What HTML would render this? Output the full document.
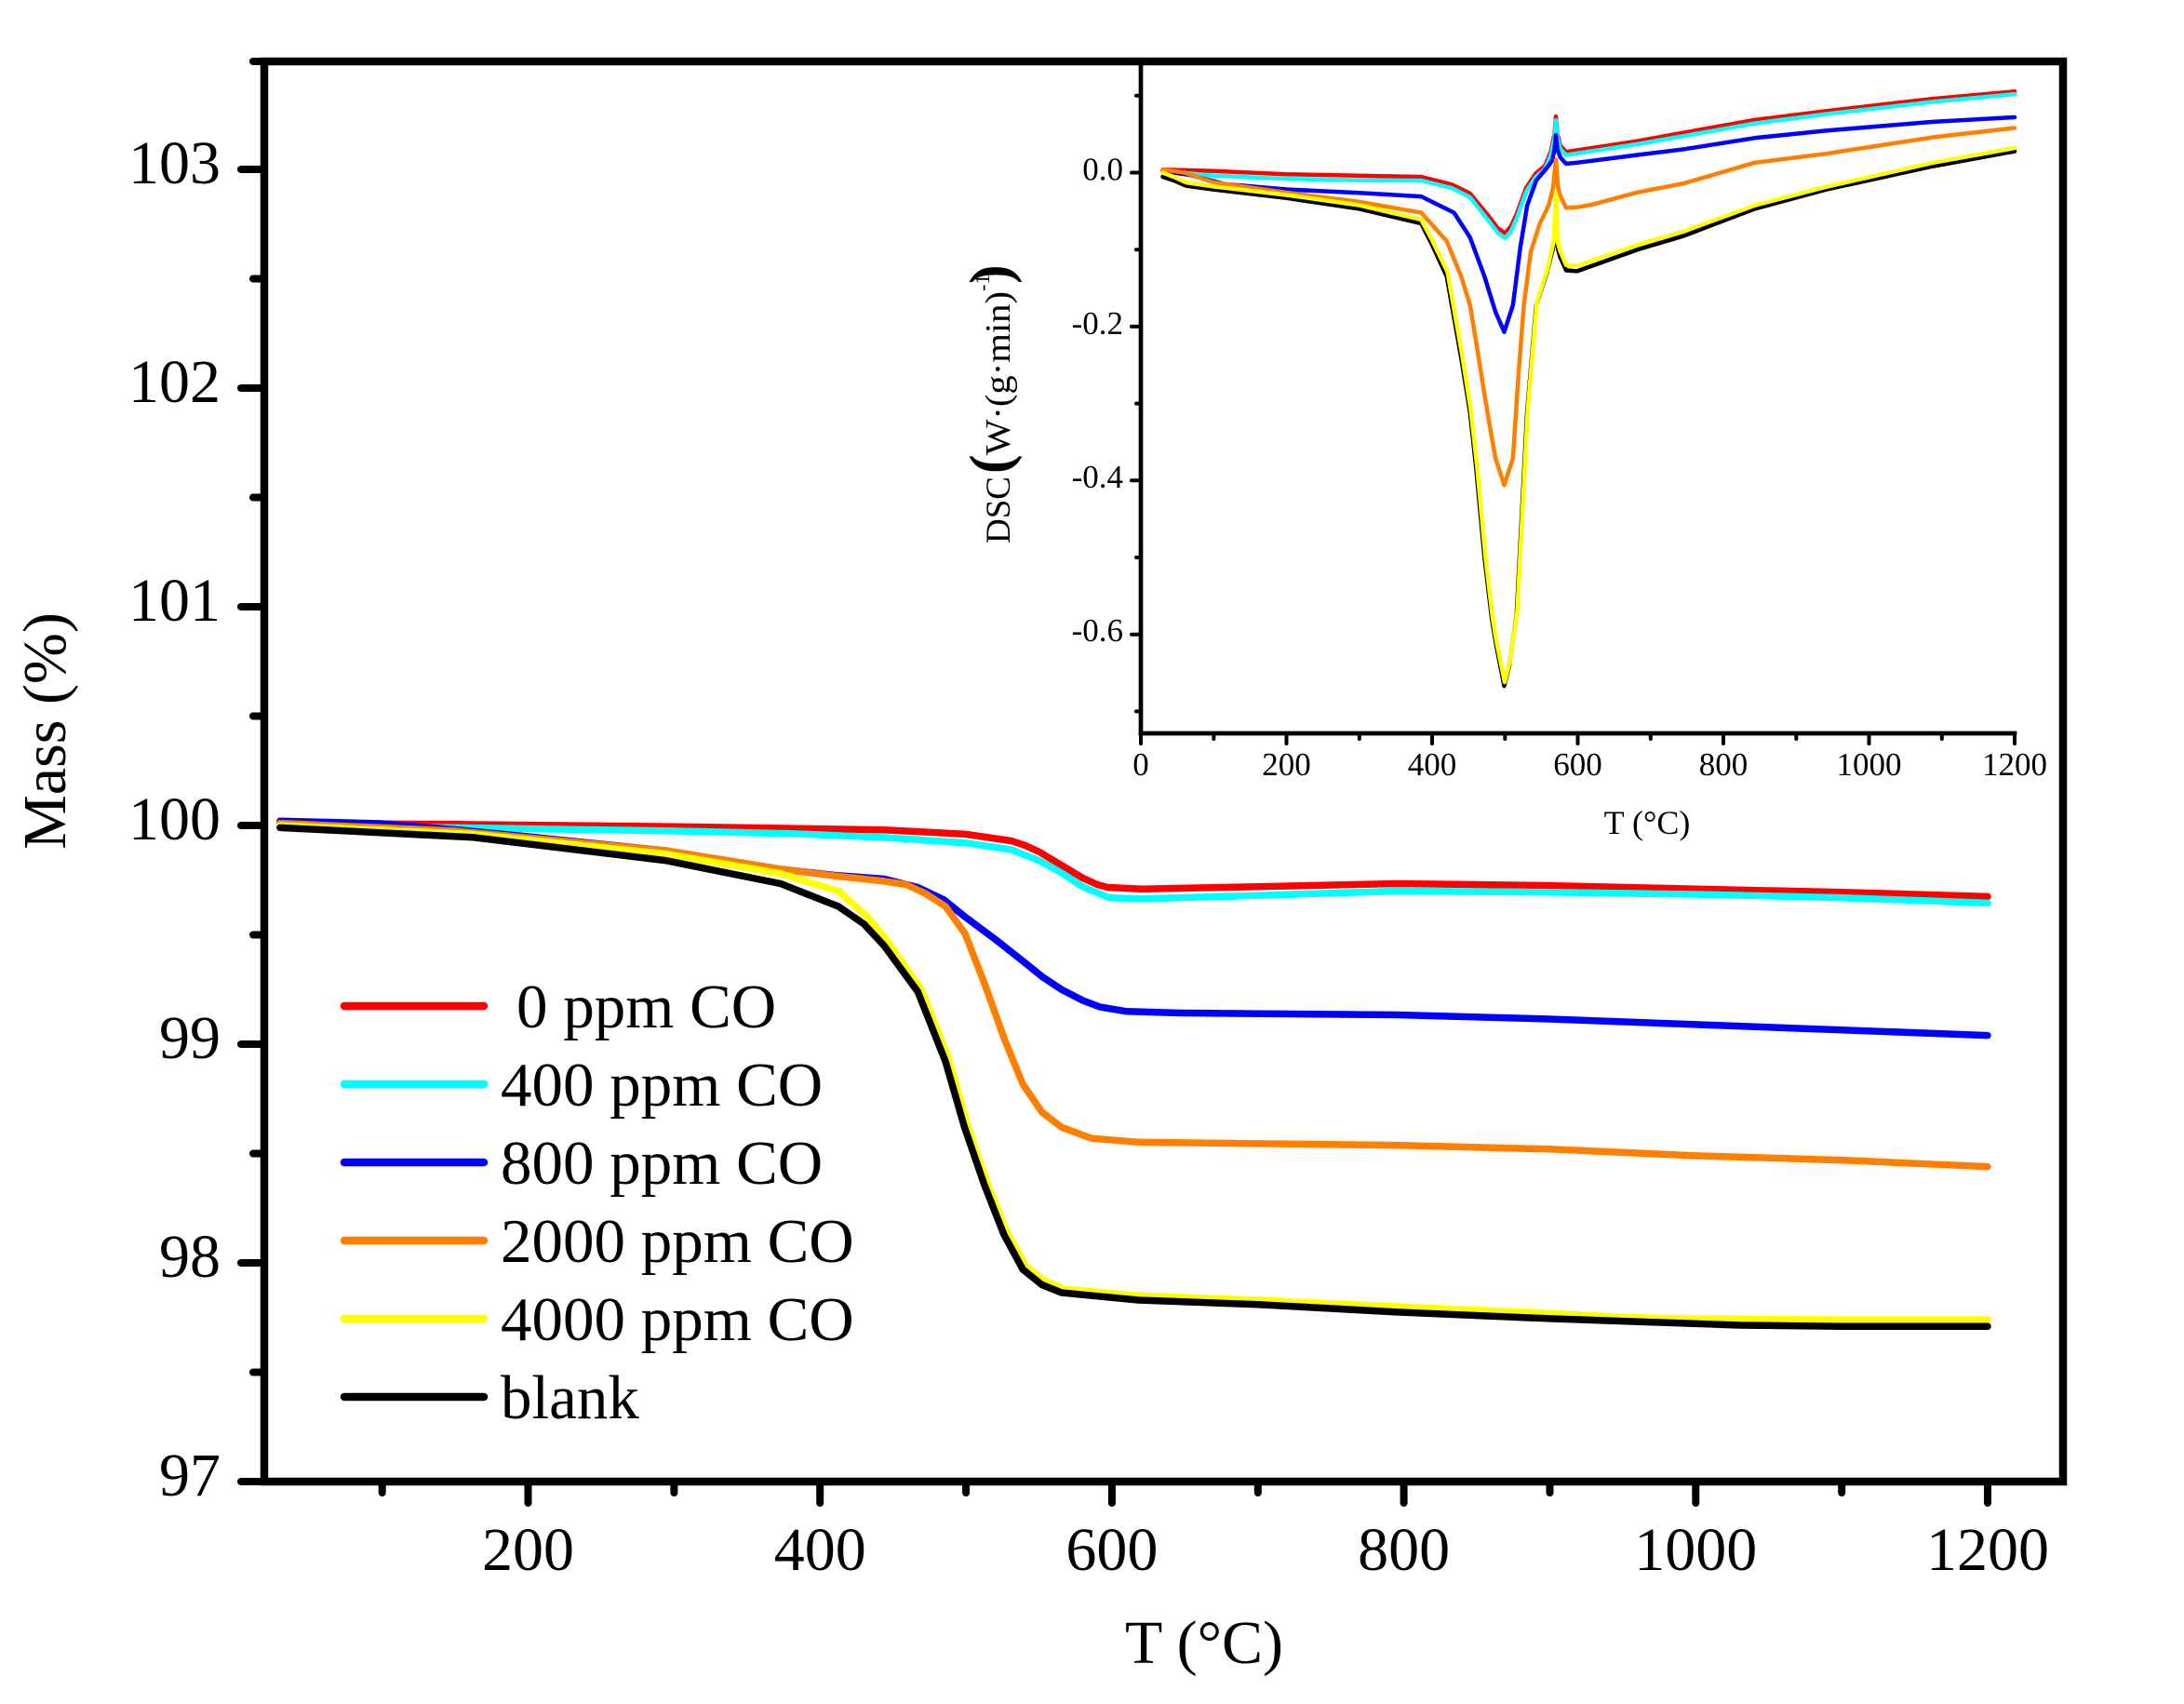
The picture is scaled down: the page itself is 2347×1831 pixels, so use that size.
<!DOCTYPE html>
<html>
<head>
<meta charset="utf-8">
<style>
  html,body{margin:0;padding:0;background:#fff;}
  svg{display:block;}
  text{font-family:"Liberation Serif","Times New Roman",serif;fill:#000;}
</style>
</head>
<body>
<svg width="2347" height="1831" viewBox="0 0 2347 1831" xmlns="http://www.w3.org/2000/svg">
  <rect x="0" y="0" width="2347" height="1831" fill="#fff"/>

  <!-- ===== MAIN TGA CURVES ===== -->
  <g fill="none" stroke-width="7.5" stroke-linejoin="round" stroke-linecap="round">
    <polyline stroke="#ff0000" points="300.9,884.65 489.1,885.8 724.4,888.2 849.8,890.1 950.2,891.7 1038.1,896.4 1086.7,903.5 1100.8,908.2 1116.5,915.2 1140.0,929.3 1163.5,943.4 1179.2,950.5 1190.2,953.5 1226.3,955.2 1351.8,952.8 1500.8,949.5 1665.5,951.6 1822.3,955.2 1979.2,958.7 2136.0,963.4"/>
    <polyline stroke="#00ffff" points="300.9,887 489.1,889.35 724.4,892.9 849.8,895.7 950.2,899.9 1038.1,905.8 1086.7,912.9 1116.5,924.6 1140.0,937.5 1163.5,952.8 1191.8,964.6 1226.3,965.7 1351.8,962.2 1500.8,957.5 1665.5,958.7 1822.3,961.0 1979.2,964.6 2136.0,970.4"/>
    <polyline stroke="#0000ff" points="300.9,882.3 410.7,885 489.1,891.5 567.5,899 715.0,914.0 838.8,934.0 896.9,940.5 950.2,944.5 986.3,953.5 1014.5,966.9 1036.5,984.8 1069.4,1009.2 1099.2,1032.7 1119.6,1049.2 1140.8,1063.3 1163.5,1075.0 1182.3,1082.1 1210.6,1086.8 1263.9,1088.4 1500.8,1090.5 1665.5,1095.0 1822.3,1100.9 1979.2,1106.7 2136.0,1112.6"/>
    <polyline stroke="#ff8000" points="300.9,884.65 489.1,892.9 715.0,914.0 838.8,934.0 896.9,941.1 950.2,946.9 973.7,950.5 994.1,959.9 1016.1,974.0 1037.1,1003.3 1057.8,1056.2 1078.8,1115.0 1099.2,1165.0 1119.6,1194.9 1140.8,1211.3 1172.9,1223.1 1223.1,1227.3 1351.8,1228.9 1500.8,1230.6 1665.5,1234.8 1822.3,1241.9 1979.2,1246.6 2136.0,1253.6"/>
    <polyline stroke="#ffff00" points="300.9,887 507.9,896.4 715.0,917.6 838.8,938.7 901,957.5 932,985 954,1012 990,1063 1020,1139 1040,1210 1061,1272 1082,1324 1102,1360 1122,1376 1143,1385 1223.1,1392.3 1351.8,1397 1500.8,1404 1665.5,1411.1 1747,1415.8 1822.3,1417 1979.2,1418.1 2136,1418.1"/>
    <polyline stroke="#000000" points="300.9,889.35 507.9,899.7 715.0,924.6 838.8,949.5 901.0,974.0 928.3,992.8 950.2,1016.3 986.3,1065.6 1016.1,1140.8 1036.5,1211.3 1057.8,1273.1 1078.8,1326.5 1099.2,1364.1 1119.6,1380.5 1140.8,1389.0 1223.1,1397.0 1351.8,1401.7 1500.8,1409.9 1665.5,1416.9 1747.0,1419.7 1869.4,1424.0 1979.2,1425.2 2136.0,1425.2"/>
  </g>

  <!-- ===== MAIN FRAME ===== -->
  <rect x="284" y="66" width="1933" height="1526" fill="none" stroke="#000" stroke-width="8.5"/>

  <!-- Y ticks (outward, left) -->
  <g stroke="#000" stroke-width="8" stroke-linecap="round">
    <line x1="284" y1="1592" x2="259" y2="1592"/>
    <line x1="284" y1="1357" x2="259" y2="1357"/>
    <line x1="284" y1="1122" x2="259" y2="1122"/>
    <line x1="284" y1="887" x2="259" y2="887"/>
    <line x1="284" y1="652" x2="259" y2="652"/>
    <line x1="284" y1="417" x2="259" y2="417"/>
    <line x1="284" y1="182" x2="259" y2="182"/>
    <line x1="284" y1="1474.5" x2="272" y2="1474.5"/>
    <line x1="284" y1="1239.5" x2="272" y2="1239.5"/>
    <line x1="284" y1="1004.5" x2="272" y2="1004.5"/>
    <line x1="284" y1="769.5" x2="272" y2="769.5"/>
    <line x1="284" y1="534.5" x2="272" y2="534.5"/>
    <line x1="284" y1="299.5" x2="272" y2="299.5"/>
    <line x1="284" y1="66" x2="272" y2="66"/>
    <!-- X ticks (outward, down) -->
    <line x1="567.5" y1="1592" x2="567.5" y2="1615"/>
    <line x1="881.2" y1="1592" x2="881.2" y2="1615"/>
    <line x1="1194.9" y1="1592" x2="1194.9" y2="1615"/>
    <line x1="1508.6" y1="1592" x2="1508.6" y2="1615"/>
    <line x1="1822.3" y1="1592" x2="1822.3" y2="1615"/>
    <line x1="2136" y1="1592" x2="2136" y2="1615"/>
    <line x1="410.7" y1="1592" x2="410.7" y2="1604"/>
    <line x1="724.4" y1="1592" x2="724.4" y2="1604"/>
    <line x1="1038.1" y1="1592" x2="1038.1" y2="1604"/>
    <line x1="1351.8" y1="1592" x2="1351.8" y2="1604"/>
    <line x1="1665.5" y1="1592" x2="1665.5" y2="1604"/>
    <line x1="1979.2" y1="1592" x2="1979.2" y2="1604"/>
  </g>

  <!-- Y tick labels -->
  <g font-size="66" text-anchor="end">
    <text x="237" y="1607">97</text>
    <text x="237" y="1372">98</text>
    <text x="237" y="1137">99</text>
    <text x="237" y="902">100</text>
    <text x="237" y="667">101</text>
    <text x="237" y="432">102</text>
    <text x="237" y="197">103</text>
  </g>
  <!-- X tick labels -->
  <g font-size="66" text-anchor="middle">
    <text x="567.5" y="1687">200</text>
    <text x="881.2" y="1687">400</text>
    <text x="1194.9" y="1687">600</text>
    <text x="1508.6" y="1687">800</text>
    <text x="1822.3" y="1687">1000</text>
    <text x="2136" y="1687">1200</text>
  </g>

  <!-- Axis titles -->
  <text x="1294" y="1787" font-size="66" text-anchor="middle">T (°C)</text>
  <text transform="translate(70,785.5) rotate(-90)" font-size="66" text-anchor="middle">Mass (%)</text>

  <!-- ===== LEGEND ===== -->
  <g stroke-width="8.5" stroke-linecap="round">
    <line x1="370" y1="1081" x2="520" y2="1081" stroke="#ff0000"/>
    <line x1="370" y1="1165" x2="520" y2="1165" stroke="#00ffff"/>
    <line x1="370" y1="1249" x2="520" y2="1249" stroke="#0000ff"/>
    <line x1="370" y1="1333" x2="520" y2="1333" stroke="#ff8000"/>
    <line x1="370" y1="1417" x2="520" y2="1417" stroke="#ffff00"/>
    <line x1="370" y1="1501" x2="520" y2="1501" stroke="#000000"/>
  </g>
  <g font-size="67">
    <text x="555" y="1104">0 ppm CO</text>
    <text x="538" y="1188">400 ppm CO</text>
    <text x="538" y="1272">800 ppm CO</text>
    <text x="538" y="1356">2000 ppm CO</text>
    <text x="538" y="1440">4000 ppm CO</text>
    <text x="538" y="1524">blank</text>
  </g>

  <!-- ===== INSET DSC ===== -->
  <g fill="none" stroke-width="4.5" stroke-linejoin="round" stroke-linecap="round">
    <polyline stroke="#ff0000" points="1249.5,182.2 1304.3,183.8 1382.5,187.2 1460.8,188.8 1527.3,190.0 1560.1,198.3 1579.7,207.8 1600.0,232.6 1609.4,245.0 1617.3,250.7 1623.5,243.4 1629.8,230.2 1640.0,202.0 1650.1,186.7 1660.3,178.1 1666.5,163.2 1670.5,144.2 1672.0,125.1 1673.6,144.2 1676.7,156.6 1683.0,163.2 1694.7,161.5 1759.7,151.6 1809.8,142.5 1885.6,128.9 1962.3,119.3 2077.4,106.1 2165.0,98.3"/>
    <polyline stroke="#00ffff" points="1249.5,183.8 1304.3,188.8 1382.5,192.1 1460.8,193.8 1527.3,194.0 1560.1,202.0 1579.7,212.0 1600.0,237.6 1609.4,250 1617.3,255.8 1623.5,249 1629.8,235.1 1640.0,206.2 1650.1,190.5 1660.3,181.4 1666.5,167.3 1670.5,148.3 1672.0,129.3 1673.6,148.3 1676.7,160 1683.0,166.7 1694.7,164.8 1759.7,154.9 1809.8,146.1 1885.6,132.6 1962.3,122.6 2077.4,109.4 2165.0,101.1"/>
    <polyline stroke="#0000ff" points="1249.5,183.8 1278.4,188.0 1316.8,197.9 1382.5,203.5 1460.8,207.3 1527.3,211.1 1562.5,228.5 1579.7,255.0 1595.3,297.1 1607.1,335.2 1616.5,356.7 1625.9,327.7 1633.7,266.5 1641.1,221.1 1650.9,193.8 1662.3,180.5 1668.1,172.3 1670.5,160.7 1672.0,145.0 1673.6,160.7 1676.7,169 1683.0,176.0 1694.7,174.8 1759.7,166.5 1809.8,160.3 1885.6,148.3 1962.3,140.4 2077.4,130.9 2165.0,126.0"/>
    <polyline stroke="#ff8000" points="1249.5,182.2 1273.0,185.5 1304.3,196.0 1382.5,207.0 1460.8,216.9 1527.3,228.5 1554.7,259.1 1570.3,297.1 1579.7,327.7 1586.0,365.8 1595.3,423.7 1601.6,461.7 1607.1,492.3 1616.5,521.3 1625.9,492.3 1631.7,403.8 1637.6,327.7 1645.0,270.7 1654.8,240.1 1664.2,220.7 1668.9,202.0 1672.0,171.7 1674.4,202.0 1676.7,210.3 1683.0,223.3 1694.7,222.7 1709.6,220.2 1759.7,206.7 1809.8,197.0 1885.6,174.8 1962.3,165.2 2077.4,147.5 2165.0,137.5"/>
    <polyline stroke="#000000" points="1249.5,190.0 1261.2,193.8 1274.5,199.6 1304.3,203.7 1382.5,212.8 1460.8,224.4 1527.3,240.1 1539.0,263.0 1554.7,297.1 1570.3,384.8 1579.7,442.7 1586.0,499.8 1595.3,599.0 1603.2,665.2 1607.9,693.3 1616.5,737.1 1622.0,714.8 1629.8,660.2 1641.1,442.7 1650.9,327.7 1662.3,293.0 1669.7,264.1 1672.0,235.1 1674.4,268.2 1676.7,276.5 1683.0,290.5 1694.7,291.4 1759.7,268.2 1809.8,253.3 1885.6,224.4 1962.3,203.7 2077.4,178.6 2165.0,162.6"/>
    <polyline stroke="#ffff00" points="1249.5,185.5 1261.2,190 1274.5,196 1304.3,200.4 1382.5,209.5 1460.8,220.5 1527.3,236 1539,258 1555.5,292 1571,380 1580.5,440 1587,498 1596.3,598 1604,664 1608.7,692 1617,733 1622.5,711 1630.5,657 1641.8,440 1651.5,325 1662.8,290 1669.7,259.1 1672,208 1674.4,262 1676.7,269.9 1683,284.7 1694.7,285.6 1759.7,263.2 1809.8,248.4 1885.6,220.7 1962.3,200.8 2077.4,174.8 2165,159.0"/>
  </g>

  <!-- Inset axes -->
  <g stroke="#000" stroke-width="4.7" stroke-linecap="square">
    <line x1="1226" y1="68" x2="1226" y2="788"/>
    <line x1="1226" y1="788" x2="2165" y2="788"/>
  </g>
  <g stroke="#000" stroke-width="4" stroke-linecap="round">
    <line x1="1226" y1="185.5" x2="1216" y2="185.5"/>
    <line x1="1226" y1="350.9" x2="1216" y2="350.9"/>
    <line x1="1226" y1="516.3" x2="1216" y2="516.3"/>
    <line x1="1226" y1="681.7" x2="1216" y2="681.7"/>
    <line x1="1226" y1="102.8" x2="1221" y2="102.8"/>
    <line x1="1226" y1="268.2" x2="1221" y2="268.2"/>
    <line x1="1226" y1="433.6" x2="1221" y2="433.6"/>
    <line x1="1226" y1="599.0" x2="1221" y2="599.0"/>
    <line x1="1226" y1="764.4" x2="1221" y2="764.4"/>
    <line x1="1226" y1="788" x2="1226" y2="799"/>
    <line x1="1382.5" y1="788" x2="1382.5" y2="799"/>
    <line x1="1539" y1="788" x2="1539" y2="799"/>
    <line x1="1695.5" y1="788" x2="1695.5" y2="799"/>
    <line x1="1852" y1="788" x2="1852" y2="799"/>
    <line x1="2008.5" y1="788" x2="2008.5" y2="799"/>
    <line x1="2165" y1="788" x2="2165" y2="799"/>
    <line x1="1304.3" y1="788" x2="1304.3" y2="794"/>
    <line x1="1460.8" y1="788" x2="1460.8" y2="794"/>
    <line x1="1617.3" y1="788" x2="1617.3" y2="794"/>
    <line x1="1773.8" y1="788" x2="1773.8" y2="794"/>
    <line x1="1930.3" y1="788" x2="1930.3" y2="794"/>
    <line x1="2086.8" y1="788" x2="2086.8" y2="794"/>
  </g>
  <g font-size="35" text-anchor="end">
    <text x="1207" y="193.5">0.0</text>
    <text x="1207" y="359">-0.2</text>
    <text x="1207" y="524">-0.4</text>
    <text x="1207" y="689">-0.6</text>
  </g>
  <g font-size="35" text-anchor="middle">
    <text x="1226" y="833">0</text>
    <text x="1382.5" y="833">200</text>
    <text x="1539" y="833">400</text>
    <text x="1695.5" y="833">600</text>
    <text x="1852" y="833">800</text>
    <text x="2008.5" y="833">1000</text>
    <text x="2165" y="833">1200</text>
  </g>
  <text x="1770" y="896" font-size="36" text-anchor="middle">T (°C)</text>

  <!-- Inset Y title (rotated) -->
  <g transform="translate(1085,0) rotate(-90)">
    <text x="-584" y="0" font-size="37" textLength="72" lengthAdjust="spacingAndGlyphs">DSC</text>
    <text x="-509" y="0" font-size="62" font-weight="bold">(</text>
    <text x="-489" y="0" font-size="38" textLength="176" lengthAdjust="spacingAndGlyphs">W·(g·min)</text>
    <text x="-313" y="-22" font-size="22">-1</text>
    <text x="-305" y="0" font-size="62" font-weight="bold">)</text>
  </g>
</svg>
</body>
</html>
